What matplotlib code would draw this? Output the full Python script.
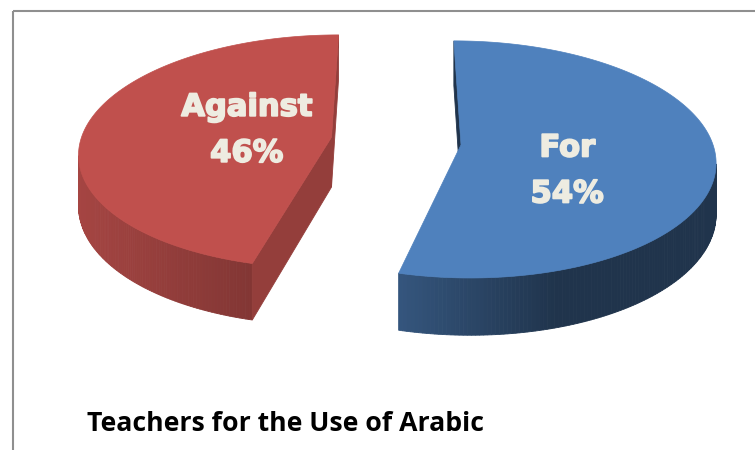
import numpy as np
import matplotlib.pyplot as plt
import matplotlib.patheffects as pe
from matplotlib.patches import Polygon, Rectangle
from matplotlib.colors import to_rgb

# Survey result
labels = ["For", "Against"]
shares = [54, 46]
colors = ["#4f81bd", "#c0504d"]
title = "Teachers for the Use of Arabic"

# 3D pie layout (pixels)
CX, CY = 396, 141          # screen position of the pie centre (top face)
SX, SZ, SH = 251, 115.8, 50  # horizontal radius, depth radius, thickness
PERSP = 0.123              # perspective shrink toward the back
EXPLODE = 0.26
START = 90                 # first slice begins at 12 o'clock, runs clockwise

# wall shading: (left factor, right factor, fraction of width used by the ramp)
wall_shade = [(0.66, 0.40, 0.5), (0.86, 0.68, 1.0)]
cut_shade = [0.40, 0.77]
label_r = [0.42, 0.345]
label_dy = [17, -5]
LABEL_COLOR = "#eeece1"


def project(x, z, depth):
    w = 1 + PERSP * z
    return CX + SX * x / w, CY - SZ * z / w + SH * depth / w


def newell(pts):
    n = np.zeros(3)
    for i in range(len(pts)):
        a, b = np.array(pts[i]), np.array(pts[(i + 1) % len(pts)])
        n += np.cross(a, b)
    return n


def screen_area(xy):
    x, y = xy[:, 0], xy[:, 1]
    return 0.5 * np.sum(x * np.roll(y, -1) - np.roll(x, -1) * y)


def face_xy(world):
    return np.array([project(x, z, d) for x, z, d in world])


def is_visible(world, normal):
    # world points as (x, z, depth) -> 3D (x, up, z)
    pts3 = [(x, -d, z) for x, z, d in world]
    s_w = np.sign(np.dot(newell(pts3), normal))
    s_s = np.sign(screen_area(face_xy(world)))
    return s_w * s_s


def shade(color, f):
    return tuple(np.clip(np.array(to_rgb(color)) * f, 0, 1))


fig = plt.figure(figsize=(7.55, 4.5), dpi=100)
ax = fig.add_axes([0, 0, 1, 1])
ax.set_xlim(0, 755)
ax.set_ylim(450, 0)
ax.axis("off")

total = float(sum(shares))
hi_angles = START - 360 * np.concatenate([[0], np.cumsum(shares)[:-1]]) / total
lo_angles = hi_angles - 360 * np.array(shares) / total

heavy = [pe.withStroke(linewidth=1.3, foreground=LABEL_COLOR)]

ref_sign = None
for i in range(len(shares)):
    lo, hi = np.radians(lo_angles[i]), np.radians(hi_angles[i])
    mid = 0.5 * (lo + hi)
    ox, oz = EXPLODE * np.cos(mid), EXPLODE * np.sin(mid)
    th = np.linspace(lo, hi, 240)
    rx, rz = ox + np.cos(th), oz + np.sin(th)

    top = [(ox, oz, 0)] + [(x, z, 0) for x, z in zip(rx, rz)]
    top_sign = is_visible(top, np.array([0, 1, 0]))
    if ref_sign is None:
        ref_sign = top_sign

    # outer curved wall
    quads = []
    for j in range(len(th) - 1):
        q = [(rx[j], rz[j], 0), (rx[j + 1], rz[j + 1], 0),
             (rx[j + 1], rz[j + 1], 1), (rx[j], rz[j], 1)]
        tm = 0.5 * (th[j] + th[j + 1])
        if is_visible(q, np.array([np.cos(tm), 0, np.sin(tm)])) == ref_sign:
            quads.append(face_xy(q))
    if quads:
        xs = np.array([q[:, 0].mean() for q in quads])
        f_l, f_r, frac = wall_shade[i]
        t = np.clip((xs - xs.min()) / (frac * (xs.max() - xs.min()) + 1e-9), 0, 1)
        for q, tt in zip(quads, t):
            c = shade(colors[i], f_l + (f_r - f_l) * tt)
            ax.add_patch(Polygon(q, closed=True, facecolor=c, edgecolor=c, lw=0.6))

    # radial cut faces
    for ang, nang in ((hi, hi + np.pi / 2), (lo, lo - np.pi / 2)):
        ex, ez = ox + np.cos(ang), oz + np.sin(ang)
        face = [(ox, oz, 0), (ex, ez, 0), (ex, ez, 1), (ox, oz, 1)]
        if is_visible(face, np.array([np.cos(nang), 0, np.sin(nang)])) == ref_sign:
            c = shade(colors[i], cut_shade[i])
            ax.add_patch(Polygon(face_xy(face), closed=True, facecolor=c,
                                 edgecolor=c, lw=0.6))

    ax.add_patch(Polygon(face_xy(top), closed=True, facecolor=colors[i],
                         edgecolor=colors[i], lw=0.5))

    # slice label
    lx = ox + label_r[i] * np.cos(mid)
    lz = oz + label_r[i] * np.sin(mid)
    px, py = project(lx, lz, 0)
    py += label_dy[i]
    ax.text(px, py - 11.5, labels[i], ha="center", va="baseline",
            fontsize=22, fontweight="bold", color=LABEL_COLOR,
            family="DejaVu Sans", path_effects=heavy)
    ax.text(px, py + 34.5, f"{shares[i]}%", ha="center", va="baseline",
            fontsize=22, fontweight="bold", color=LABEL_COLOR,
            family="DejaVu Sans", path_effects=heavy)

# chart border
ax.add_patch(Rectangle((12.5, 10.5), 800, 500, fill=False,
                       edgecolor="#8f8f8f", lw=1.5, clip_on=False))

t = ax.text(87, 431, title, ha="left", va="baseline", fontsize=18,
            fontweight="bold", color="black", family="Open Sans")
fig.canvas.draw()
bb = t.get_window_extent()
t.set_fontsize(18 * 397 / bb.width)

fig.savefig("out.png", dpi=100)
